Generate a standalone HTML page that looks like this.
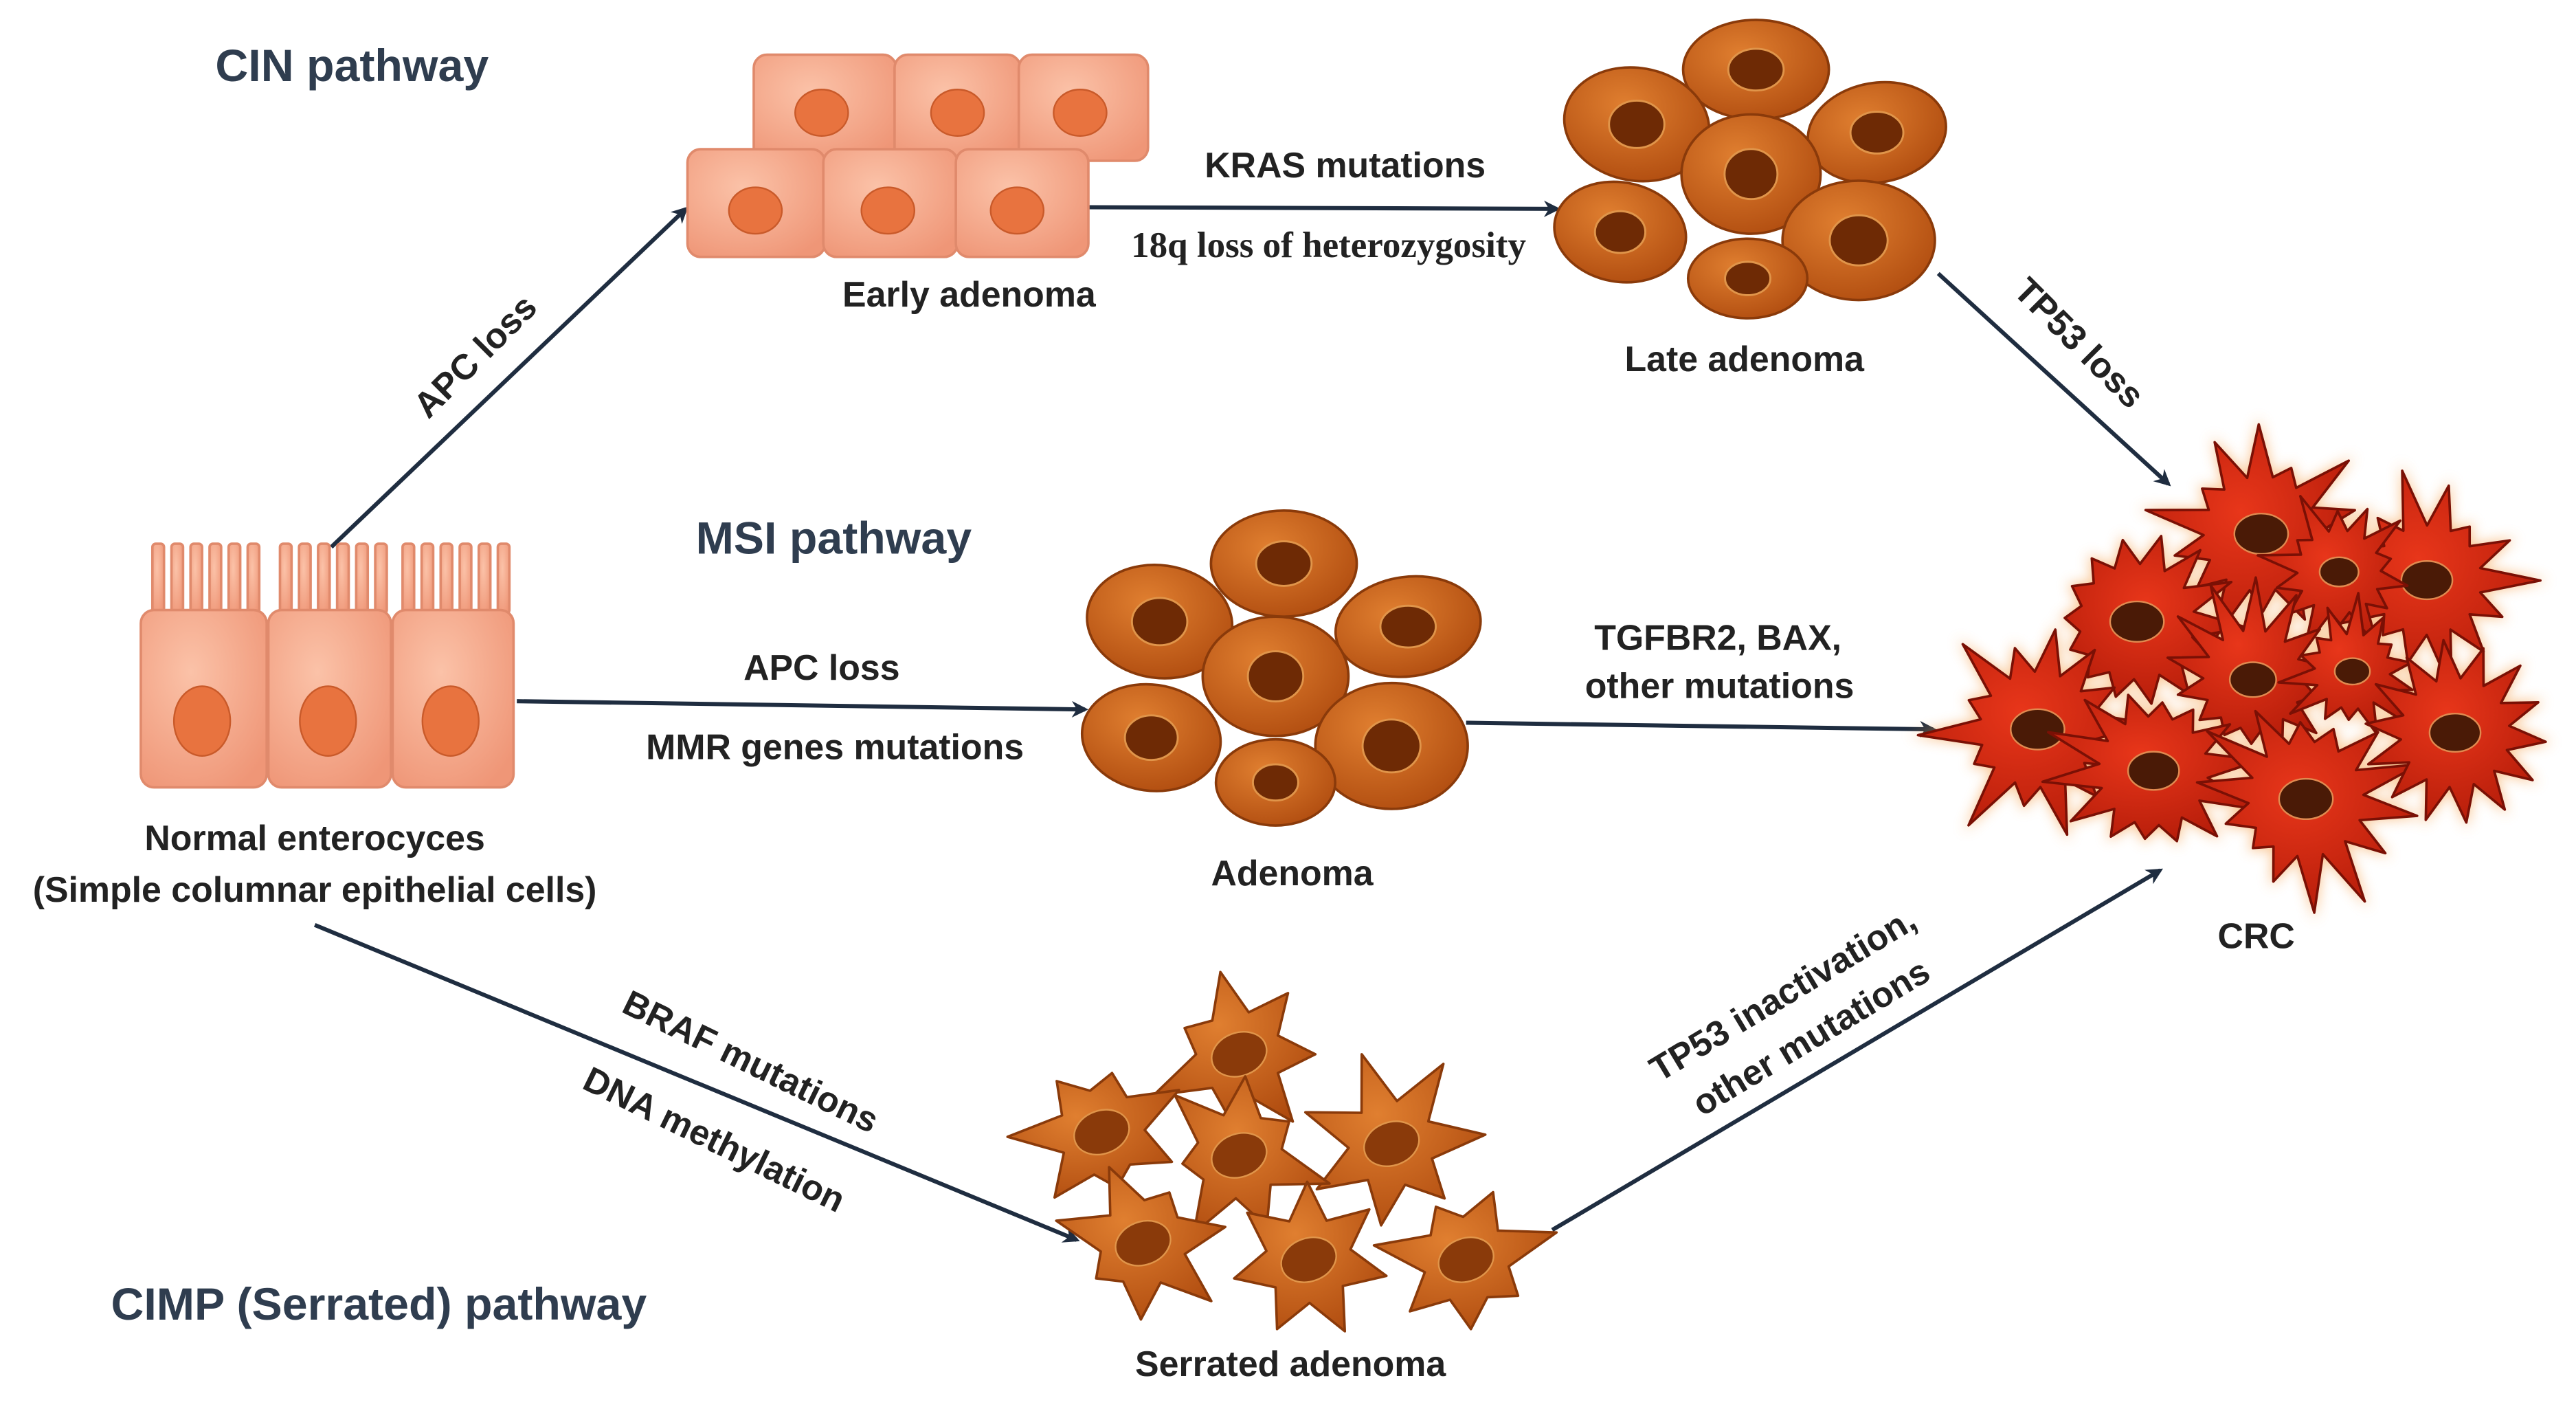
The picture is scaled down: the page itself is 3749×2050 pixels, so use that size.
<!DOCTYPE html>
<html><head><meta charset="utf-8"><style>
html,body{margin:0;padding:0;background:#fff;}
svg{display:block;}
text{font-family:"Liberation Sans",sans-serif;font-weight:bold;fill:#222;}
.h{fill:#2f3d4f;font-size:27.5px;}
.l{font-size:21.5px;}
</style></head><body>
<svg id="s" width="3749" height="2050" viewBox="0 0 1555 850" preserveAspectRatio="none" xmlns="http://www.w3.org/2000/svg">
<defs>
<marker id="ar" markerWidth="10" markerHeight="10" refX="8" refY="5" orient="auto" markerUnits="userSpaceOnUse"><path d="M0,0 L10,5 L0,10 L3,5 z" fill="#1f2d40"/></marker>
<radialGradient id="pk" cx="40%" cy="35%" r="75%"><stop offset="0" stop-color="#fbc2a8"/><stop offset="1" stop-color="#ef9677"/></radialGradient>
<radialGradient id="or" cx="40%" cy="35%" r="75%"><stop offset="0" stop-color="#e07f30"/><stop offset="1" stop-color="#ae4a0e"/></radialGradient>
<radialGradient id="rd" cx="45%" cy="40%" r="70%"><stop offset="0" stop-color="#e8361a"/><stop offset="1" stop-color="#b01a08"/></radialGradient>
<filter id="gl" x="-20%" y="-20%" width="140%" height="140%"><feGaussianBlur stdDeviation="4"/></filter>
</defs>
<g id="arrows" stroke="#1f2d40" stroke-width="2.5" fill="none" marker-end="url(#ar)">
<line x1="200" y1="330" x2="414" y2="126"/>
<line x1="657" y1="125" x2="940" y2="126"/>
<line x1="1170" y1="165" x2="1309" y2="292"/>
<line x1="312" y1="423" x2="655" y2="428"/>
<line x1="885" y1="436" x2="1167" y2="440"/>
<line x1="190" y1="558" x2="650" y2="748"/>
<line x1="937" y1="742" x2="1304" y2="525"/>
</g>
<g stroke="#e08a6c" stroke-width="1.5" fill="url(#pk)">
<g id="mv"></g>
<rect x="85" y="368" width="76" height="107" rx="8"/>
<rect x="162" y="368" width="74" height="107" rx="8"/>
<rect x="237" y="368" width="73" height="107" rx="8"/>
</g>
<g fill="#e8733f" stroke="#c95a2a"><ellipse cx="122" cy="435" rx="17" ry="21"/><ellipse cx="198" cy="435" rx="17" ry="21"/><ellipse cx="272" cy="435" rx="17" ry="21"/></g>
<g stroke="#e08a6c" stroke-width="1.5" fill="url(#pk)">
<rect x="455" y="33" width="86" height="64" rx="8"/><rect x="540" y="33" width="76" height="64" rx="8"/><rect x="615" y="33" width="78" height="64" rx="8"/>
<rect x="415" y="90" width="83" height="65" rx="8"/><rect x="497" y="90" width="81" height="65" rx="8"/><rect x="577" y="90" width="80" height="65" rx="8"/>
</g>
<g fill="#e8733f" stroke="#c95a2a"><ellipse cx="496" cy="68" rx="16" ry="14"/><ellipse cx="578" cy="68" rx="16" ry="14"/><ellipse cx="652" cy="68" rx="16" ry="14"/><ellipse cx="456" cy="127" rx="16" ry="14"/><ellipse cx="536" cy="127" rx="16" ry="14"/><ellipse cx="614" cy="127" rx="16" ry="14"/></g>
<g id="late"></g><g id="msi"></g><g id="ser"></g>
<g id="crcg" filter="url(#gl)" opacity="0.6"></g><g id="crc"></g>
<text class="h" x="130" y="49">CIN pathway</text>
<text class="h" x="420" y="334">MSI pathway</text>
<text class="h" x="67" y="796">CIMP (Serrated) pathway</text>
<g text-anchor="middle">
<text class="l" x="585" y="185">Early adenoma</text>
<text class="l" x="812" y="107">KRAS mutations</text>
<text x="802" y="155" style="font-family:'Liberation Serif',serif;font-size:22px">18q loss of heterozygosity</text>
<text class="l" x="1053" y="224">Late adenoma</text>
<text class="l" x="0" y="0" transform="translate(1250,212) rotate(45)">TP53 loss</text>
<text class="l" x="0" y="0" transform="translate(292,220) rotate(-45)">APC loss</text>
<text class="l" x="496" y="410">APC loss</text>
<text class="l" x="504" y="458">MMR genes mutations</text>
<text class="l" x="780" y="534">Adenoma</text>
<text class="l" x="1037" y="392">TGFBR2, BAX,</text>
<text class="l" x="1038" y="421">other mutations</text>
<text class="l" x="190" y="513">Normal enterocyces</text>
<text class="l" x="190" y="544">(Simple columnar epithelial cells)</text>
<text class="l" x="1362" y="572">CRC</text>
<text class="l" x="0" y="0" transform="translate(450,647) rotate(26)">BRAF mutations</text>
<text class="l" x="0" y="0" transform="translate(428,694) rotate(26)">DNA methylation</text>
<text class="l" x="0" y="0" transform="translate(1080,606) rotate(-31)">TP53 inactivation,</text>
<text class="l" x="0" y="0" transform="translate(1097,632) rotate(-31)">other mutations</text>
<text class="l" x="779" y="830">Serrated adenoma</text>
</g>
</svg>
<script>
var NS="http://www.w3.org/2000/svg";
function el(p,t,a){var e=document.createElementNS(NS,t);for(var k in a)e.setAttribute(k,a[k]);document.getElementById(p).appendChild(e);return e;}
[[92,368],[169,368],[243,368]].forEach(function(c){for(var i=0;i<6;i++)el('mv','rect',{x:c[0]+i*11.5,y:328,width:7,height:42,rx:2});});
function blob(g,cx,cy,rx,ry,rot){
 el(g,'ellipse',{cx:cx,cy:cy,rx:rx,ry:ry,fill:'url(#or)',stroke:'#8a3a0a','stroke-width':1.5,transform:'rotate('+rot+' '+cx+' '+cy+')'});
 el(g,'ellipse',{cx:cx,cy:cy,rx:rx*0.38,ry:ry*0.42,fill:'#6e2a05',stroke:'#e0954a','stroke-width':1.2});
}
[[1060,42,44,30,0],[988,75,44,34,10],[1133,80,42,30,-10],[1057,105,42,36,0],[978,140,40,30,10],[1122,145,46,36,0],[1055,168,36,24,0]].forEach(function(b){blob('late',b[0],b[1],b[2],b[3],b[4]);});
[[775,340,44,32,0],[700,375,44,34,8],[850,378,44,30,-8],[770,408,44,36,0],[695,445,42,32,8],[840,450,46,38,0],[770,472,36,26,0]].forEach(function(b){blob('msi',b[0],b[1],b[2],b[3],b[4]);});
function star(g,cx,cy,n,ro,ri,rot,fill,stroke,seed){
 var p=[];for(var i=0;i<2*n;i++){var r=i%2?ri:ro*(1+0.25*Math.sin(i*seed));var a=rot+Math.PI*i/n;p.push((cx+r*Math.cos(a)).toFixed(1)+','+(cy+r*Math.sin(a)).toFixed(1));}
 return el(g,'polygon',{points:p.join(' '),fill:fill,stroke:stroke,'stroke-width':1.5,'stroke-linejoin':'round'});
}
[[748,636,0],[665,683,1],[840,690,2],[748,697,3],[690,750,4],[790,760,5],[885,760,6]].forEach(function(s){
 star('ser',s[0],s[1],7,46,26,s[2]*0.4,'url(#or)','#8a3a0a',s[2]+1.3);
 el('ser','ellipse',{cx:s[0],cy:s[1],rx:17,ry:13,fill:'#8a3a0a',stroke:'#e0954a',transform:'rotate(-20 '+s[0]+' '+s[1]+')'});
});
var C=[[1365,322,58,1.1],[1290,375,58,0.5],[1465,350,55,0.9],[1412,345,42,0.2],[1360,410,50,0.7],[1420,405,38,0.3],[1230,440,58,0.4],[1300,465,55,0.8],[1392,482,58,0.6],[1482,442,55,0.1]];
C.forEach(function(s,i){star('crcg',s[0],s[1],14,s[2]+4,s[2]*0.62,s[3],'#f59a40','none',i+2);});
C.forEach(function(s,i){
 star('crc',s[0],s[1],14,s[2],s[2]*0.6,s[3],'url(#rd)','#7a1005',i+2);
 var r=s[2]*0.28;el('crc','ellipse',{cx:s[0],cy:s[1],rx:r,ry:r*0.75,fill:'#4a1a06',stroke:'#e08a50'});
});
</script>
</body></html>
